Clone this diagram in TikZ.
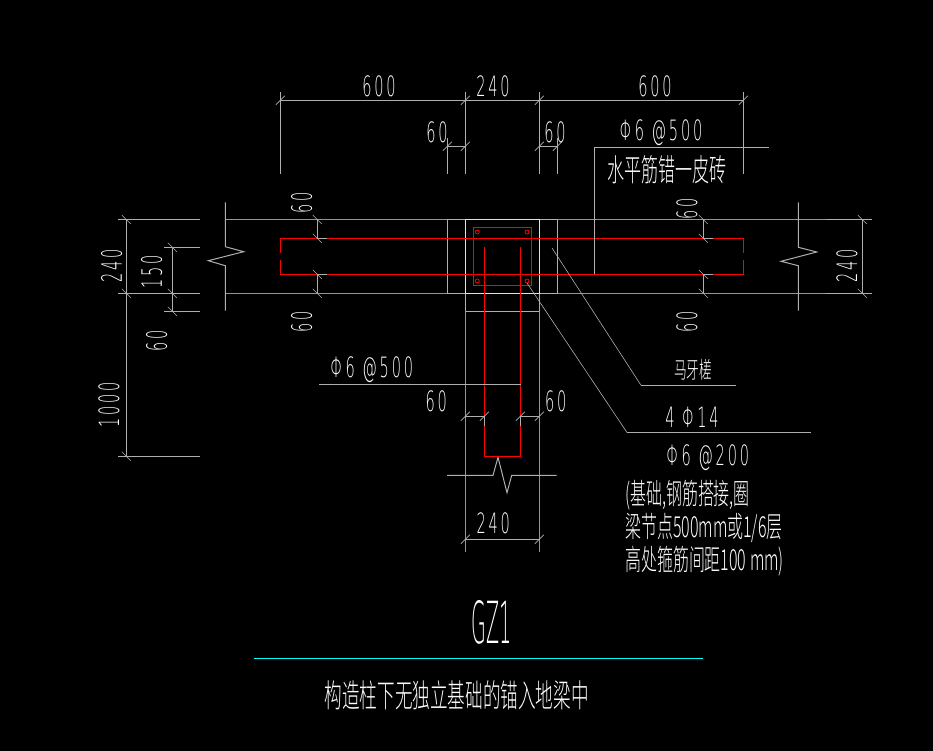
\documentclass[tikz,border=0pt]{standalone}
\usepackage{fontspec}
\newfontfamily\cadfont[FakeStretch=0.52,LetterSpace=10]{DejaVu Sans ExtraLight}
\newfontfamily\titlefont[FakeStretch=0.33]{DejaVu Sans ExtraLight}
\newfontfamily\cjk[FakeStretch=0.55]{Noto Sans CJK SC Light}
\definecolor{cadgrey}{RGB}{175,175,175}
\definecolor{cadgreen}{RGB}{40,225,40}
\definecolor{cadyellow}{RGB}{255,255,0}
\definecolor{cadcyan}{RGB}{0,255,255}
\tikzstyle{cadline} = [draw=cadgrey, line width=1pt]
\tikzstyle{thinline} = [draw=cadgrey, line width=0.6pt]
\tikzstyle{beamline} = [draw=cadgreen, line width=1pt]
\tikzstyle{bar} = [draw=red, line width=1pt]
\tikzstyle{dimtext} = [text=white, inner sep=0pt, font=\cadfont\fontsize{28}{28}\selectfont]
\tikzstyle{cjktext} = [text=white, inner sep=0pt, font=\cjk\fontsize{31}{31}\selectfont]
\tikzstyle{notetext} = [text=white, inner sep=0pt, anchor=west, font=\cjk\fontsize{29}{29}\selectfont]
\begin{document}
\begin{tikzpicture}[x=1pt, y=-1pt]
	\useasboundingbox [fill=black] (0,0) rectangle (933,751);

	% wall and column outline
	\path [beamline] (225.3,219.5) -- (826,219.5);
	\path [beamline] (225.3,293.3) -- (826,293.3);
	\path [cadline] (447.3,219.5) -- (557.3,219.5) -- (557.3,293.3) -- (447.3,293.3) -- cycle;
	\path [cadline] (465.3,293.3) -- (465.3,311.3) -- (539.3,311.3) -- (539.3,293.3);
	\path [draw=cadyellow, line width=1pt] (465.3,219.5) rectangle (539.3,293.3);
	\path [beamline] (465.3,311.3) -- (465.3,551.7);
	\path [beamline] (539.3,311.3) -- (539.3,551.7);

	% break lines
	\path [cadline] (225.3,202.3) -- (225.3,246.7) -- (243.7,251.7) -- (208.3,260.7) -- (225.3,265.7) -- (225.3,310.7);
	\path [cadline] (798.3,202.3) -- (798.3,247.3) -- (816.7,252) -- (781,261.3) -- (798.3,265.7) -- (798.3,310.7);
	\path [cadline] (447,475.3) -- (493,475.3) -- (498,457.3) -- (507,492.7) -- (511.7,475.3) -- (556.7,475.3);

	% reinforcement
	\path [bar] (280.3,252.7) -- (280.3,238.3) -- (743.3,238.3) -- (743.3,252.7);
	\path [bar] (280.3,260) -- (280.3,274.3) -- (743.3,274.3) -- (743.3,260);
	\path [bar] (484.3,247.3) -- (484.3,456.3) -- (520.3,456.3) -- (520.3,247.3);
	\path [bar] (473.3,227.3) rectangle (531.3,285.3);
	\foreach \cx/\cy in {477.3/232, 527/232, 477.3/281, 527/281}
		\draw [red, line width=0.8pt] (\cx,\cy) circle (2pt);

	% extension and dimension lines
	\path [cadline] (280.3,100.3) -- (743.3,100.3);
	\foreach \ex in {280.3, 465.3, 539.3, 743.3}
		\path [cadline] (\ex,92) -- (\ex,173.7);
	\path [cadline] (447.3,138) -- (447.3,174.5);
	\path [cadline] (557.3,138) -- (557.3,174.5);
	\path [cadline] (447.3,146.3) -- (465.3,146.3);
	\path [cadline] (539.3,146.3) -- (557.3,146.3);
	\path [cadline] (118,219.5) -- (200,219.5);
	\path [cadline] (118,293.3) -- (200,293.3);
	\path [cadline] (118,456.3) -- (200,456.3);
	\path [cadline] (164,247.3) -- (200,247.3);
	\path [cadline] (164,311.3) -- (200,311.3);
	\path [cadline] (126.3,219.5) -- (126.3,456.3);
	\path [cadline] (172.3,247.3) -- (172.3,311.3);
	\path [cadline] (826,219.5) -- (871.7,219.5);
	\path [cadline] (826,293.3) -- (871.7,293.3);
	\path [cadline] (862.3,219.5) -- (862.3,293.3);
	\path [cadline] (465.3,416.3) -- (484.3,416.3) -- (484.3,426);
	\path [cadline] (539.3,416.3) -- (520.3,416.3) -- (520.3,426);
	\path [cadline] (465.3,539.3) -- (539.3,539.3);
	\path [cadline] (327,238.3) -- (317.3,238.3) -- (317.3,219.5);
	\path [cadline] (327,274.3) -- (317.3,274.3) -- (317.3,293.3);
	\path [cadline] (713,238.3) -- (703.3,238.3) -- (703.3,219.5);
	\path [cadline] (713,274.3) -- (703.3,274.3) -- (703.3,293.3);

	% ticks
	\foreach \tx/\ty in {280.3/100.3, 465.3/100.3, 539.3/100.3, 743.3/100.3, 447.3/146.3, 465.3/146.3, 539.3/146.3, 557.3/146.3, 465.3/416.3, 484.3/416.3, 520.3/416.3, 539.3/416.3, 465.3/539.3, 539.3/539.3}
		\path [thinline] (\tx-4.5,\ty+4.5) -- (\tx+4.5,\ty-4.5);
	\foreach \tx/\ty in {126.3/219.5, 126.3/293.3, 126.3/456.3, 172.3/247.3, 172.3/293.3, 172.3/311.3, 862.3/219.5, 862.3/293.3, 317.3/219.5, 317.3/238.3, 317.3/274.3, 317.3/293.3, 703.3/219.5, 703.3/238.3, 703.3/274.3, 703.3/293.3}
		\path [thinline] (\tx-4.5,\ty-4.5) -- (\tx+4.5,\ty+4.5);

	% leaders
	\path [cadline] (594.3,274.3) -- (594.3,147.3) -- (768.7,147.3);
	\path [cadline] (319,384.3) -- (520.7,384.3);
	\path [thinline] (552,248) -- (641,385.3);
	\path [cadline] (641,385.3) -- (736,385.3);
	\path [thinline] (527,283) -- (627,432.5);
	\path [cadline] (627,432.5) -- (811,432.5);
	\path [draw=cadcyan, line width=1pt] (254,658.3) -- (703,658.3);

	% dimension text
	\node [dimtext] (topleft) at (379,86) {600};
	\node [dimtext] (topmid) at (493,86) {240};
	\node [dimtext] (topright) at (655,86) {600};
	\node [dimtext] (gapleft) at (437,132) {60};
	\node [dimtext] (gapright) at (555,132) {60};
	\node [dimtext, rotate=90] (sideheight) at (111.7,265.7) {240};
	\node [dimtext, rotate=90] (sideinner) at (151.7,271.7) {150};
	\node [dimtext, rotate=90] (sidelow) at (156.7,340.5) {60};
	\node [dimtext, rotate=90] (sidedepth) at (109,405) {1000};
	\node [dimtext, rotate=90] (rightheight) at (847,265.5) {240};
	\node [dimtext, rotate=90] (coverup) at (301.7,203) {60};
	\node [dimtext, rotate=90] (coverdown) at (301.7,322) {60};
	\node [dimtext, rotate=90] (coverupr) at (687,208.7) {60};
	\node [dimtext, rotate=90] (coverdownr) at (687,322) {60};
	\node [dimtext] (stemleft) at (436.3,401.7) {60};
	\node [dimtext] (stemright) at (555.7,401.7) {60};
	\node [dimtext] (stemwidth) at (493.3,523.3) {240};

	% notes
	\node [dimtext] (tierebar) at (661,132.7) {Φ6 @500};
	\node [cjktext] (tienote) at (666.7,170) {水平筋错一皮砖};
	\node [dimtext] (stemtie) at (371.7,369.3) {Φ6 @500};
	\node [cjktext, font=\cjk\fontsize{23}{23}\selectfont] (toothed) at (693,370) {马牙槎};
	\node [dimtext] (mainbar) at (692,417) {4 Φ14};
	\node [dimtext] (stirrup) at (707.7,458) {Φ6 @200};
	\node [notetext] (noteone) at (625,495) {(基础,钢筋搭接,圈};
	\node [notetext] (notetwo) at (625,528) {梁节点500mm或1/6层};
	\node [notetext] (notethree) at (625,561) {高处箍筋间距100 mm)};

	% title
	\node [text=white, inner sep=0pt, font=\titlefont\fontsize{58}{58}\selectfont] (title) at (491.7,622.3) {GZ1};
	\node [cjktext, font=\cjk\fontsize{32}{32}\selectfont] (caption) at (456.7,695) {构造柱下无独立基础的锚入地梁中};
\end{tikzpicture}
\end{document}
